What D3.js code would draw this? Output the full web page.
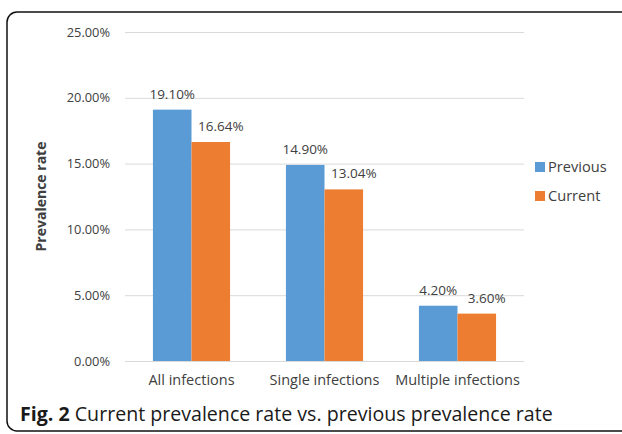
<!DOCTYPE html>
<html>
<head>
<meta charset="utf-8">
<script src="https://cdn.jsdelivr.net/npm/d3@7"></script>
<style>
  html, body { margin: 0; padding: 0; background: #fff; }
  svg { display: block; }
</style>
</head>
<body>
<svg id="chart" width="622" height="434"></svg>
<script>
// Prevalence rates by infection type
const categories = ["All infections", "Single infections", "Multiple infections"];
const seriesNames = ["Previous", "Current"];
const previousValues = [19.10, 14.90, 4.20];
const currentValues = [16.64, 13.04, 3.60];
const yTicks = [0, 5, 10, 15, 20, 25];
const colors = ["#5B9BD5", "#ED7D31"];

const rows = categories.map((c, i) => ({
  category: c,
  values: [previousValues[i], currentValues[i]]
}));

const svg = d3.select("#chart");
const font = "'Open Sans', sans-serif";
const textColor = "#404040";

// Frame around the figure
svg.append("rect")
  .attr("x", 7).attr("y", 12)
  .attr("width", 640).attr("height", 419)
  .attr("rx", 10).attr("ry", 10)
  .attr("fill", "none")
  .attr("stroke", "#111")
  .attr("stroke-width", 1.5);

const plot = { left: 125, right: 524, top: 32, bottom: 361 };

const x0 = d3.scaleBand()
  .domain(categories)
  .range([plot.left, plot.right])
  .paddingInner(0.42)
  .paddingOuter(0.21);

const x1 = d3.scaleBand()
  .domain(seriesNames)
  .range([0, x0.bandwidth()])
  .padding(0);

const y = d3.scaleLinear()
  .domain([0, 25])
  .range([plot.bottom, plot.top]);

// Gridlines and y tick labels
const yAxis = d3.axisLeft(y)
  .tickValues(yTicks)
  .tickSize(-(plot.right - plot.left))
  .tickPadding(15)
  .tickFormat(d => d.toFixed(2) + "%");

const gy = svg.append("g")
  .attr("transform", `translate(${plot.left},0)`)
  .call(yAxis);
gy.select(".domain").remove();
gy.selectAll(".tick line").attr("stroke", "#d9d9d9").attr("stroke-width", 1);
gy.selectAll(".tick text")
  .attr("fill", textColor)
  .style("font-family", font)
  .style("font-size", "12.8px");

// Bars
const groups = svg.append("g").selectAll("g")
  .data(rows)
  .join("g")
  .attr("transform", d => `translate(${x0(d.category)},0)`);

groups.selectAll("rect")
  .data(d => d.values.map((v, i) => ({ key: seriesNames[i], value: v, i })))
  .join("rect")
  .attr("x", d => x1(d.key))
  .attr("y", d => y(d.value))
  .attr("width", x1.bandwidth())
  .attr("height", d => y(0) - y(d.value))
  .attr("fill", d => colors[d.i]);

// Value labels (the second series' labels sit nudged right to clear the first)
groups.selectAll("text")
  .data(d => d.values.map((v, i) => ({ key: seriesNames[i], value: v, i })))
  .join("text")
  .attr("x", d => x1(d.key) + x1.bandwidth() / 2 + (d.i === 1 ? 10 : 0))
  .attr("y", d => y(d.value) - 11)
  .attr("text-anchor", "middle")
  .attr("fill", textColor)
  .style("font-family", font)
  .style("font-size", "13.5px")
  .text(d => d.value.toFixed(2) + "%");

// Category axis labels
const xAxis = d3.axisBottom(x0).tickSize(0).tickPadding(14);
const gx = svg.append("g")
  .attr("transform", `translate(0,${plot.bottom})`)
  .call(xAxis);
gx.select(".domain").remove();
gx.selectAll(".tick text")
  .attr("fill", textColor)
  .style("font-family", font)
  .style("font-size", "14.5px");

// Y axis title
svg.append("text")
  .attr("transform", `translate(46,${(plot.top + plot.bottom) / 2}) rotate(-90)`)
  .attr("text-anchor", "middle")
  .attr("fill", textColor)
  .style("font-family", font)
  .style("font-size", "14px")
  .style("font-weight", "bold")
  .text("Prevalence rate");

// Legend
const legend = svg.append("g").attr("transform", "translate(535,167)");
seriesNames.forEach((name, i) => {
  const g = legend.append("g").attr("transform", `translate(0,${i * 29})`);
  g.append("rect")
    .attr("x", 0).attr("y", -5)
    .attr("width", 10).attr("height", 10)
    .attr("fill", colors[i]);
  g.append("text")
    .attr("x", 13).attr("y", 0)
    .attr("dy", "0.35em")
    .attr("fill", textColor)
    .style("font-family", font)
    .style("font-size", "14.6px")
    .text(name);
});

// Figure caption
const caption = svg.append("text")
  .attr("x", 20).attr("y", 421)
  .attr("fill", "#1a1a1a")
  .style("font-family", font)
  .style("font-size", "19.6px");
caption.append("tspan").style("font-weight", "bold").text("Fig. 2");
caption.append("tspan").text(" Current prevalence rate vs. previous prevalence rate");
</script>
</body>
</html>
